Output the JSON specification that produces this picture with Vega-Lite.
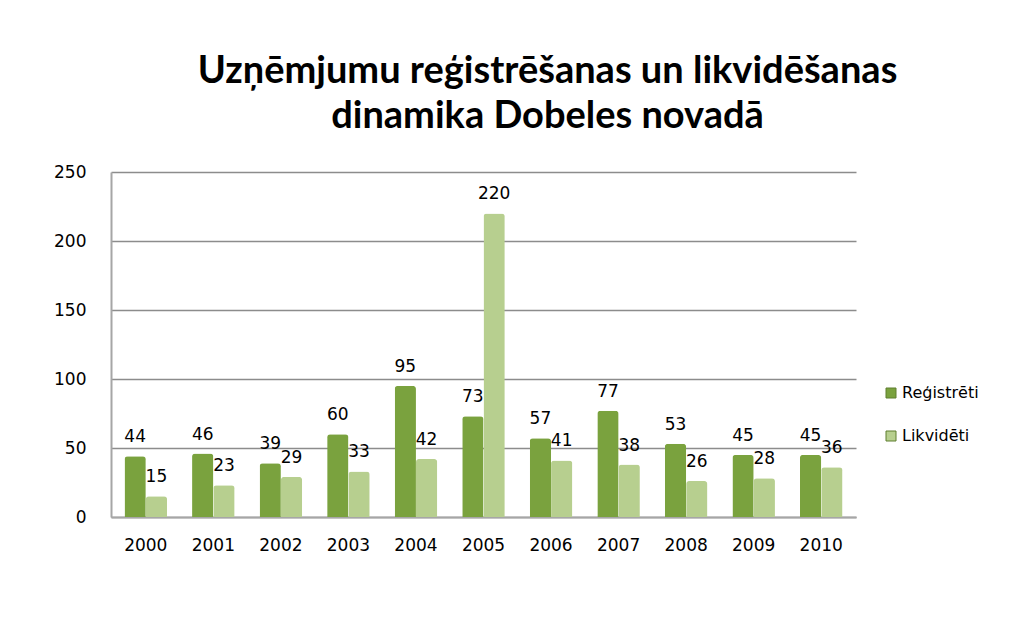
{
  "$schema": "https://vega.github.io/schema/vega-lite/v6.json",
  "autosize": "none",
  "width": 745,
  "height": 345,
  "padding": {"left": 111, "top": 172, "right": 155, "bottom": 109},
  "background": "white",
  "title": {
    "text": ["Uzņēmjumu reģistrēšanas un likvidēšanas", "dinamika Dobeles novadā"],
    "font": "Lato",
    "fontSize": 38,
    "fontWeight": "bold",
    "color": "#000000",
    "anchor": "middle",
    "frame": "group",
    "dx": 64,
    "offset": 27,
    "lineHeight": 45
  },
  "data": {
    "values": [
      {"gads": "2000", "veids": "Reģistrēti", "skaits": 44},
      {"gads": "2000", "veids": "Likvidēti", "skaits": 15},
      {"gads": "2001", "veids": "Reģistrēti", "skaits": 46},
      {"gads": "2001", "veids": "Likvidēti", "skaits": 23},
      {"gads": "2002", "veids": "Reģistrēti", "skaits": 39},
      {"gads": "2002", "veids": "Likvidēti", "skaits": 29},
      {"gads": "2003", "veids": "Reģistrēti", "skaits": 60},
      {"gads": "2003", "veids": "Likvidēti", "skaits": 33},
      {"gads": "2004", "veids": "Reģistrēti", "skaits": 95},
      {"gads": "2004", "veids": "Likvidēti", "skaits": 42},
      {"gads": "2005", "veids": "Reģistrēti", "skaits": 73},
      {"gads": "2005", "veids": "Likvidēti", "skaits": 220},
      {"gads": "2006", "veids": "Reģistrēti", "skaits": 57},
      {"gads": "2006", "veids": "Likvidēti", "skaits": 41},
      {"gads": "2007", "veids": "Reģistrēti", "skaits": 77},
      {"gads": "2007", "veids": "Likvidēti", "skaits": 38},
      {"gads": "2008", "veids": "Reģistrēti", "skaits": 53},
      {"gads": "2008", "veids": "Likvidēti", "skaits": 26},
      {"gads": "2009", "veids": "Reģistrēti", "skaits": 45},
      {"gads": "2009", "veids": "Likvidēti", "skaits": 28},
      {"gads": "2010", "veids": "Reģistrēti", "skaits": 45},
      {"gads": "2010", "veids": "Likvidēti", "skaits": 36}
    ]
  },
  "encoding": {
    "x": {
      "field": "gads",
      "type": "nominal",
      "title": null,
      "scale": {"paddingInner": 0.37, "paddingOuter": 0.2},
      "axis": {
        "labelAngle": 0,
        "labelFont": "DejaVu Sans",
        "labelFontSize": 17,
        "labelColor": "#000000",
        "labelPadding": 20,
        "ticks": false,
        "domain": true,
        "domainColor": "#a6a6a6",
        "domainWidth": 2
      }
    },
    "xOffset": {"field": "veids", "type": "nominal", "sort": ["Reģistrēti", "Likvidēti"]},
    "y": {
      "field": "skaits",
      "type": "quantitative",
      "title": null,
      "scale": {"domain": [0, 250]},
      "axis": {
        "values": [0, 50, 100, 150, 200, 250],
        "labelFont": "DejaVu Sans",
        "labelFontSize": 17,
        "labelColor": "#000000",
        "labelPadding": 25,
        "ticks": false,
        "domain": true,
        "domainColor": "#a6a6a6",
        "domainWidth": 2,
        "grid": true,
        "gridColor": "#8c8c8c",
        "gridWidth": 1.5
      }
    }
  },
  "layer": [
    {
      "mark": {"type": "bar", "cornerRadiusTopLeft": 3, "cornerRadiusTopRight": 3},
      "encoding": {
        "color": {
          "field": "veids",
          "type": "nominal",
          "sort": ["Reģistrēti", "Likvidēti"],
          "scale": {"domain": ["Reģistrēti", "Likvidēti"], "range": ["#7aa23e", "#b7cf8f"]},
          "legend": {
            "title": null,
            "orient": "none",
            "legendX": 772,
            "legendY": 213,
            "symbolType": "square",
            "symbolSize": 100,
            "symbolStrokeColor": "#5f7f2e",
            "symbolStrokeWidth": 1,
            "labelFont": "DejaVu Sans",
            "labelFontSize": 16,
            "labelColor": "#000000",
            "rowPadding": 27,
            "labelOffset": 3
          }
        }
      }
    },
    {
      "mark": {"type": "text", "baseline": "bottom", "dy": -10, "font": "DejaVu Sans", "fontSize": 17, "color": "#000000"},
      "encoding": {
        "text": {"field": "skaits", "type": "quantitative"}
      }
    }
  ],
  "config": {"view": {"stroke": null}}
}
